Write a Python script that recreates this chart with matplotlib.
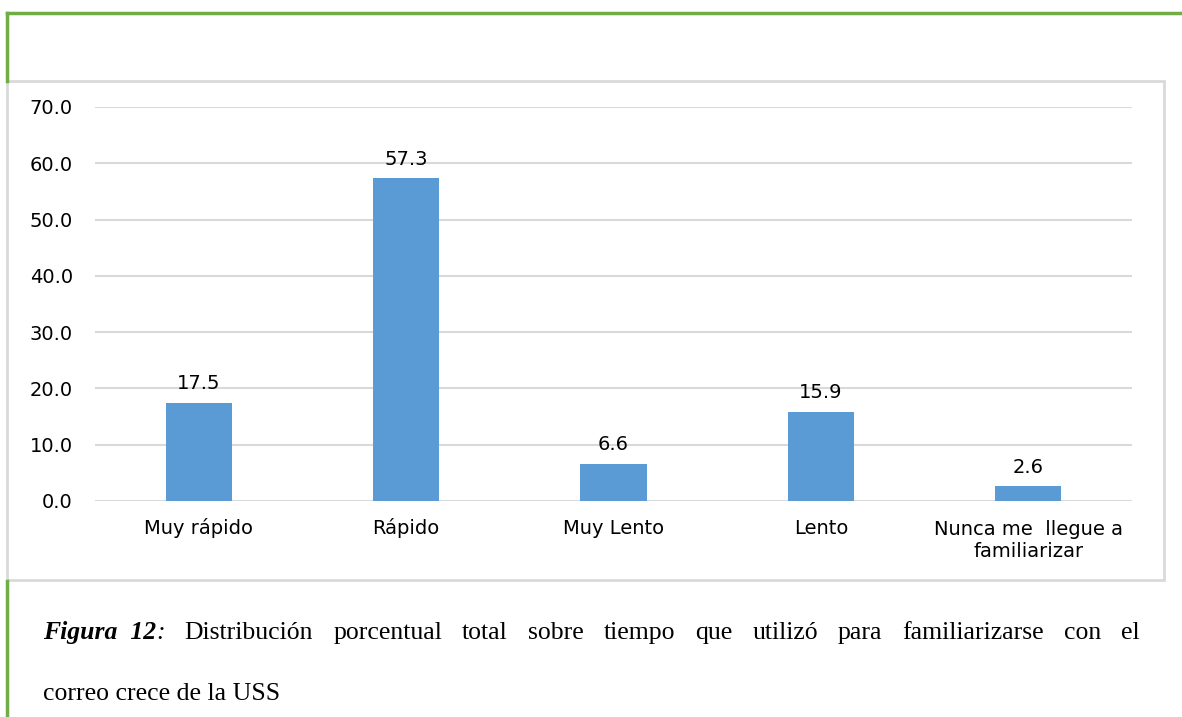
import matplotlib.pyplot as plt
import matplotlib.transforms as mtransforms
from matplotlib.lines import Line2D
from matplotlib.patches import Rectangle

categorias = ['Muy rápido', 'Rápido', 'Muy Lento', 'Lento', 'Nunca me  llegue a\nfamiliarizar']
valores = [17.5, 57.3, 6.6, 15.9, 2.6]
yticks = [0, 10, 20, 30, 40, 50, 60, 70]

W, H = 1182, 717
fig = plt.figure(figsize=(W / 100, H / 100), dpi=100)

def fx(px):
    return px / W

def fy(py):
    return 1 - py / H

green = '#70ad47'
gray = '#d9d9d9'

# decorative frame lines (page border and chart box)
fig.add_artist(Line2D([fx(7), fx(1182)], [fy(13), fy(13)], color=green, lw=2.5))
fig.add_artist(Line2D([fx(7), fx(7)], [fy(13), fy(81)], color=green, lw=2.5))
fig.add_artist(Line2D([fx(7), fx(7)], [fy(581), fy(717)], color=green, lw=2.5))
fig.add_artist(Rectangle((fx(7), fy(580)), fx(1164) - fx(7), fy(81) - fy(580),
                         fill=False, edgecolor=gray, lw=2))

fs_chart = 14
ax = fig.add_axes([fx(95), fy(501), fx(1132) - fx(95), fy(107) - fy(501)])
x = range(len(categorias))
bars = ax.bar(x, valores, width=0.32, color='#5b9bd5', zorder=3)
ax.set_xlim(-0.5, len(categorias) - 0.5)
ax.set_ylim(0, 70)
ax.set_yticks(yticks)
ax.set_yticklabels([f'{v:.1f}' for v in yticks])
ax.set_xticks(list(x))
ax.set_xticklabels(categorias, linespacing=1.2)
ax.grid(axis='y', color=gray, lw=1.5, zorder=0)
for s in ax.spines.values():
    s.set_visible(False)
ax.tick_params(axis='both', length=0, labelsize=fs_chart, colors='#000000')
ax.tick_params(axis='y', pad=16)
ax.tick_params(axis='x', pad=24)

# align all x labels on the first-line baseline
for lab in ax.get_xticklabels():
    lab.set_verticalalignment('baseline')
    nlines = lab.get_text().count('\n')
    if nlines:
        shift = mtransforms.ScaledTranslation(0, -nlines * 23 / 100, fig.dpi_scale_trans)
        lab.set_transform(lab.get_transform() + shift)

for b, v in zip(bars, valores):
    ax.annotate(f'{v:.1f}', (b.get_x() + b.get_width() / 2, v), xytext=(0, 7),
                textcoords='offset points', ha='center', va='bottom', fontsize=fs_chart)

# caption (justified first line)
cap_words = ['Distribución', 'porcentual', 'total', 'sobre', 'tiempo', 'que', 'utilizó',
             'para', 'familiarizarse', 'con', 'el']
serif = 'Liberation Serif'
fs = 18.5
renderer = fig.canvas.get_renderer()
first = fig.text(fx(43), fy(639), 'Figura  12', fontsize=fs, family=serif,
                 style='italic', weight='bold', va='baseline')
colon = fig.text(0, fy(639), ':', fontsize=fs, family=serif, style='italic', va='baseline')
items = [first, colon] + [fig.text(0, fy(639), w, fontsize=fs, family=serif, va='baseline')
                          for w in cap_words]
widths = [t.get_window_extent(renderer).width for t in items]
left, right = 43, 1140
head = widths[0] + widths[1]
rest = sum(widths[2:])
gap = (right - left - head - rest) / (len(items) - 2)
pos = left
first.set_x(fx(pos))
pos += widths[0]
colon.set_x(fx(pos))
pos += widths[1] + gap
for t, w in zip(items[2:], widths[2:]):
    t.set_x(fx(pos))
    pos += w + gap

fig.text(fx(43), fy(700), 'correo crece de la USS', fontsize=fs, family=serif, va='baseline')

fig.savefig('out.png', dpi=100)
